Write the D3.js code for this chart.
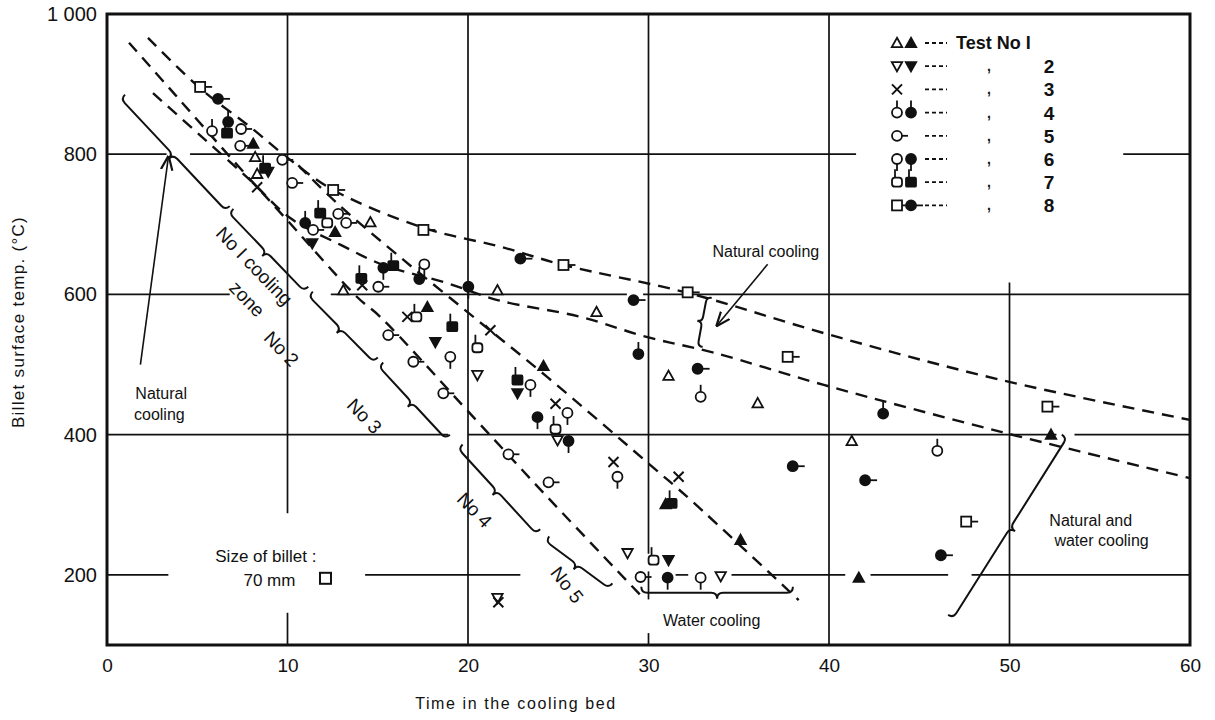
<!DOCTYPE html>
<html><head><meta charset="utf-8">
<script src="https://cdn.jsdelivr.net/npm/d3@7"></script>
<style>body{margin:0;background:#fff}svg{display:block}</style>
</head><body>
<svg id="c" width="1215" height="720"></svg>
<script>
// ---------- axes ----------
const xTicks = [0, 10, 20, 30, 40, 50, 60];
const yTicks = [200, 400, 600, 800, 1000];
const yTickLabels = ["200", "400", "600", "800", "1 000"];
const xTitle = "Time in the cooling bed";
const yTitle = "Billet surface temp. (\u00B0C)";

// ---------- dashed cooling curves (time, temp) ----------
const curveNaturalUpper = [[2.27,966],[5.16,894],[7.93,839],[10.15,792],[12.53,749],[17.53,695],[21.8,668],[25.29,642],[32.06,603],[40.1,542],[49.53,478],[60,421]];
const curveNaturalLower = [[2.55,887],[5.16,827],[7.93,763],[10.15,709],[12.92,671],[15.31,642],[18.86,616],[21.63,592],[26.23,568],[29.95,539],[33.61,517],[39.71,471],[49.53,404],[60,338]];
const curveForcedLeft = [[1.22,959],[3.77,885],[6.82,796],[9.98,706],[13.87,596],[15.14,568],[20.3,425],[24.4,311],[29.56,171]];
const curveForcedRight = [[10.6,784],[12.92,726],[16.25,653],[20.3,568],[24.4,482],[29.95,360],[32.33,307],[38.32,164]];

// ---------- measured points, per test ----------
const test1Open   = [[8.21,796],[8.32,772],[14.59,703],[13.09,606],[21.63,606],[27.12,575],[31.11,484],[36.05,445],[41.26,391]];
const test1Filled = [[8.10,815],[12.64,689],[17.75,582],[24.18,498],[30.95,301],[35.1,250],[41.65,196],[52.3,400]];
const test2Open   = [[20.52,485],[24.96,392],[21.63,167],[28.84,231],[34.0,198]];
const test2Filled = [[8.93,775],[11.37,673],[18.19,532],[22.74,459],[31.11,221]];
const test3       = [[8.32,753],[14.14,613],[16.64,568],[21.24,549],[24.85,444],[28.06,361],[31.67,340],[21.68,161]];
const test4Open   = [[5.82,833],[32.89,454],[46.0,377]];
const test4Filled = [[6.71,846],[10.98,702],[17.3,622],[29.44,515],[43.0,430]];
const test5       = [[7.43,836],[7.38,812],[9.71,792],[10.26,759],[11.42,692],[13.25,702],[12.81,715],[15.03,611],[15.58,542],[16.97,504],[18.63,459],[22.24,372],[24.46,332],[29.56,197]];
const test6Open   = [[17.58,643],[19.02,511],[23.46,471],[25.51,431],[28.28,340],[32.89,196]];
const test6Filled = [[15.31,638],[20.02,611],[23.85,425],[25.57,391],[31.06,196]];
const test7Open   = [[12.2,702],[17.14,568],[20.52,524],[24.85,408],[30.28,221]];
const test7Filled = [[6.65,830],[11.81,716],[8.76,780],[14.09,623],[15.86,641],[19.13,554],[22.74,478],[31.28,302]];
const test8Open   = [[5.16,896],[12.53,749],[17.53,692],[25.29,642],[32.17,603],[37.71,511],[52.1,440],[47.6,276]];
const test8Filled = [[6.15,879],[22.9,651],[29.17,592],[32.72,494],[37.99,355],[42.0,335],[46.2,228]];

// ---------- legend ----------
const legendNumbers = ["Test  No I", "2", "3", "4", "5", "6", "7", "8"];
const legendSeparators = ["", ",", ",", ",", ",", ",", ",", ","];

// ---------- gridline segments (value, from, to) ----------
const hGrid = [[800,0,3.3],[800,4.6,41.5],[800,56.3,60],
               [600,0,6.8],[600,12.4,28.8],[600,29.7,60],
               [400,0,18.9],[400,20.0,52.6],[400,53.6,60],
               [200,0,3.4],[200,14.3,22.9],[200,31.5,32.2],[200,34.6,40.9],[200,42.3,46.6],[200,47.9,60]];
const vGrid = [[10,288,1000],[10,100,146],[20,100,1000],[30,230,1000],[30,165,205],[30,100,117],[40,100,1000],[50,100,617]];

// ---------- zone braces (start, end in data units) ----------
const braces = [
  {a:[1.0,885], b:[6.8,726], h:6},
  {a:[7.0,722], b:[11.15,611], h:6},
  {a:[11.4,604], b:[15.0,510], h:6},
  {a:[15.3,503], b:[19.0,400], h:6},
  {a:[19.7,386], b:[24.0,265], h:6},
  {a:[24.5,255], b:[28.0,188], h:6},
  {a:[29.6,183], b:[38.0,183], h:6},
  {a:[46.6,143], b:[52.9,400], h:6},
];
const zoneLabels = [
  {t:"No I cooling", x:7.9, y:634, r:46},
  {t:"zone", x:7.5, y:587, r:46},
  {t:"No 2", x:9.4, y:516, r:46},
  {t:"No 3", x:14.0, y:420, r:46},
  {t:"No 4", x:20.1, y:286, r:46},
  {t:"No 5", x:25.2, y:180, r:52},
];

// =====================================================
const svg = d3.select("#c");
const x = d3.scaleLinear().domain([0, 60]).range([107, 1190]);
const y = d3.scaleLinear().domain([100, 1000]).range([645, 14]);
const FONT = "'Liberation Sans', Arial, sans-serif";
const ink = "#111";

// grid
svg.append("g").selectAll("line").data(hGrid).join("line")
  .attr("x1", d => x(d[1])).attr("x2", d => x(d[2]))
  .attr("y1", d => y(d[0])).attr("y2", d => y(d[0]))
  .attr("stroke", ink).attr("stroke-width", 1.7);
svg.append("g").selectAll("line").data(vGrid).join("line")
  .attr("x1", d => x(d[0])).attr("x2", d => x(d[0]))
  .attr("y1", d => y(d[1])).attr("y2", d => y(d[2]))
  .attr("stroke", ink).attr("stroke-width", 1.7);

// frame
svg.append("rect").attr("x", x(0)).attr("y", y(1000)).attr("width", x(60)-x(0)).attr("height", y(100)-y(1000))
  .attr("fill", "none").attr("stroke", ink).attr("stroke-width", 3);

// axes labels using d3 axes (no domain, no tick lines)
const yAxis = d3.axisLeft(y).tickValues(yTicks).tickFormat((d,i) => yTickLabels[i]).tickSize(0).tickPadding(10);
const gy = svg.append("g").attr("transform", `translate(${x(0)},0)`).call(yAxis);
gy.select(".domain").remove();
gy.selectAll("text").attr("font-family", FONT).attr("font-size", 20).attr("fill", ink);

const xAxis = d3.axisBottom(x).tickValues(xTicks).tickSize(0).tickPadding(14);
const gx = svg.append("g").attr("transform", `translate(0,${y(100)})`).call(xAxis);
gx.select(".domain").remove();
gx.selectAll("text").attr("font-family", FONT).attr("font-size", 19).attr("fill", ink);

svg.append("text").attr("x", 516).attr("y", 709).attr("text-anchor", "middle")
  .attr("font-family", FONT).attr("font-size", 16).attr("letter-spacing", 1.6).attr("fill", ink).text(xTitle);
svg.append("text").attr("transform", "translate(24,322) rotate(-90)").attr("text-anchor", "middle")
  .attr("font-family", FONT).attr("font-size", 17).attr("letter-spacing", 1.3).attr("fill", ink).text(yTitle);

// dashed curves
const line = d3.line().x(d => x(d[0])).y(d => y(d[1])).curve(d3.curveCatmullRom.alpha(0.5));
[curveNaturalUpper, curveNaturalLower, curveForcedLeft, curveForcedRight].forEach(c => {
  svg.append("path").attr("d", line(c)).attr("fill", "none").attr("stroke", ink)
    .attr("stroke-width", 2.4).attr("stroke-dasharray", "12,8");
});

// braces
function bracePath(a, b, h) {
  const ax = x(a[0]), ay = y(a[1]), bx = x(b[0]), by = y(b[1]);
  const L = Math.hypot(bx-ax, by-ay), dx = (bx-ax)/L, dy = (by-ay)/L;
  const nx = -dy, ny = dx;
  const mx = (ax+bx)/2, my = (ay+by)/2;
  const P = (px, py) => `${px.toFixed(1)},${py.toFixed(1)}`;
  return `M${P(ax,ay)} Q${P(ax+nx*h,ay+ny*h)} ${P(ax+nx*h+dx*h,ay+ny*h+dy*h)}`+
    ` L${P(mx+nx*h-dx*h,my+ny*h-dy*h)} Q${P(mx+nx*h,my+ny*h)} ${P(mx+nx*2*h,my+ny*2*h)}`+
    ` Q${P(mx+nx*h,my+ny*h)} ${P(mx+nx*h+dx*h,my+ny*h+dy*h)}`+
    ` L${P(bx+nx*h-dx*h,by+ny*h-dy*h)} Q${P(bx+nx*h,by+ny*h)} ${P(bx,by)}`;
}
braces.forEach(bz => svg.append("path").attr("d", bracePath(bz.a, bz.b, bz.h))
  .attr("fill", "none").attr("stroke", ink).attr("stroke-width", 2));

zoneLabels.forEach(z => svg.append("text")
  .attr("transform", `translate(${x(z.x)},${y(z.y)}) rotate(${z.r})`)
  .attr("text-anchor", "middle").attr("font-family", FONT).attr("font-size", 19).attr("fill", ink).text(z.t));

// vertical bracket for upper-right natural cooling
svg.append("path").attr("d", bracePath([33.5,595],[33.0,525],5)).attr("fill","none").attr("stroke",ink).attr("stroke-width",2);

// annotation texts
function txt(s, px, py, size, anchor) {
  svg.append("text").attr("x", px).attr("y", py).attr("text-anchor", anchor || "middle")
    .attr("font-family", FONT).attr("font-size", size).attr("fill", ink).text(s);
}
txt("Natural", x(3), y(460)+6, 16);
txt("cooling", x(2.9), y(430)+6, 16);
txt("Natural cooling", x(36.5), y(660)+5, 16);
txt("Water cooling", x(33.5), y(135)+6, 16);
txt("Natural and", x(54.5), y(278)+6, 16);
txt("water cooling", x(55.1), y(250)+6, 16);
txt("Size of billet :", x(8.8), y(225)+5, 17);
txt("70 mm", x(9.0), y(193)+6, 17);
svg.append("rect").attr("x", x(11.8)).attr("y", y(193)-7).attr("width", 11).attr("height", 11)
  .attr("fill", "none").attr("stroke", ink).attr("stroke-width", 2);

// arrows
svg.append("defs").append("marker").attr("id", "ah").attr("viewBox", "0 0 10 10").attr("refX", 9).attr("refY", 5)
  .attr("markerWidth", 9).attr("markerHeight", 9).attr("orient", "auto-start-reverse")
  .append("path").attr("d", "M0,1 L10,5 L0,9").attr("fill", "none").attr("stroke", ink).attr("stroke-width", 1.5);
svg.append("line").attr("x1", x(1.85)).attr("y1", y(500)).attr("x2", x(3.4)).attr("y2", y(796))
  .attr("stroke", ink).attr("stroke-width", 1.6).attr("marker-end", "url(#ah)");
svg.append("line").attr("x1", x(36.6)).attr("y1", y(643)).attr("x2", x(33.8)).attr("y2", y(556))
  .attr("stroke", ink).attr("stroke-width", 1.6).attr("marker-end", "url(#ah)");

// ---------- marker symbols ----------
function drawMarker(g, type, filled, cx, cy) {
  const f = filled ? ink : "#fff", sw = 1.8;
  const s = 5.2;
  if (type === "triUp") {
    g.append("path").attr("d", `M${cx},${cy-s} L${cx+s},${cy+s*0.8} L${cx-s},${cy+s*0.8}Z`).attr("fill", f).attr("stroke", ink).attr("stroke-width", sw);
  } else if (type === "triDown") {
    g.append("path").attr("d", `M${cx},${cy+s} L${cx+s},${cy-s*0.8} L${cx-s},${cy-s*0.8}Z`).attr("fill", f).attr("stroke", ink).attr("stroke-width", sw);
  } else if (type === "cross") {
    g.append("path").attr("d", `M${cx-5},${cy-5} L${cx+5},${cy+5} M${cx+5},${cy-5} L${cx-5},${cy+5}`).attr("stroke", ink).attr("stroke-width", 2);
  } else if (type === "circUp") {
    g.append("line").attr("x1", cx).attr("x2", cx).attr("y1", cy-12).attr("y2", cy).attr("stroke", ink).attr("stroke-width", sw);
    g.append("circle").attr("cx", cx).attr("cy", cy).attr("r", 5).attr("fill", f).attr("stroke", ink).attr("stroke-width", sw);
  } else if (type === "circRight") {
    g.append("line").attr("x1", cx).attr("x2", cx+11).attr("y1", cy).attr("y2", cy).attr("stroke", ink).attr("stroke-width", sw);
    g.append("circle").attr("cx", cx).attr("cy", cy).attr("r", 5).attr("fill", f).attr("stroke", ink).attr("stroke-width", sw);
  } else if (type === "circDown") {
    g.append("line").attr("x1", cx).attr("x2", cx).attr("y1", cy).attr("y2", cy+12).attr("stroke", ink).attr("stroke-width", sw);
    g.append("circle").attr("cx", cx).attr("cy", cy).attr("r", 5).attr("fill", f).attr("stroke", ink).attr("stroke-width", sw);
  } else if (type === "sqUp") {
    g.append("line").attr("x1", cx-2).attr("x2", cx-2).attr("y1", cy-13).attr("y2", cy).attr("stroke", ink).attr("stroke-width", sw);
    g.append("rect").attr("x", cx-5).attr("y", cy-4.5).attr("width", 10).attr("height", 9).attr("rx", filled ? 1 : 3).attr("fill", f).attr("stroke", ink).attr("stroke-width", sw);
  } else if (type === "sqRight") {
    g.append("line").attr("x1", cx).attr("x2", cx+12).attr("y1", cy).attr("y2", cy).attr("stroke", ink).attr("stroke-width", sw);
    if (filled) g.append("circle").attr("cx", cx).attr("cy", cy).attr("r", 5).attr("fill", f).attr("stroke", ink).attr("stroke-width", sw);
    else g.append("rect").attr("x", cx-5).attr("y", cy-5).attr("width", 10).attr("height", 10).attr("fill", f).attr("stroke", ink).attr("stroke-width", sw);
  }
}
const series = [
  [test1Open, "triUp", false], [test1Filled, "triUp", true],
  [test2Open, "triDown", false], [test2Filled, "triDown", true],
  [test3, "cross", false],
  [test4Open, "circUp", false], [test4Filled, "circUp", true],
  [test5, "circRight", false],
  [test6Open, "circDown", false], [test6Filled, "circDown", true],
  [test7Open, "sqUp", false], [test7Filled, "sqUp", true],
  [test8Open, "sqRight", false], [test8Filled, "sqRight", true],
];
const gm = svg.append("g");
series.forEach(([pts, type, filled]) => pts.forEach(p => drawMarker(gm, type, filled, x(p[0]), y(p[1]))));

// ---------- legend ----------
const legendSym = [["triUp","triUp"],["triDown","triDown"],["cross",null],["circUp","circUp"],["circRight",null],["circDown","circDown"],["sqUp","sqUp"],["sqRight","sqRight"]];
const lg = svg.append("g");
legendSym.forEach((sy, i) => {
  const ly = 43 + i * 23.2;
  drawMarker(lg, sy[0], false, 897, ly);
  if (sy[1]) drawMarker(lg, sy[1], true, 911, ly);
  lg.append("path").attr("d", `M925,${ly} L947,${ly}`).attr("stroke", ink).attr("stroke-width", 1.8).attr("stroke-dasharray", "4,3");
  if (i === 0) {
    lg.append("text").attr("x", 956).attr("y", ly + 6).attr("font-family", FONT).attr("font-size", 18).attr("font-weight", "bold").attr("fill", ink).text(legendNumbers[0]);
  } else {
    lg.append("text").attr("x", 987).attr("y", ly + 5).attr("font-family", FONT).attr("font-size", 14).attr("font-weight", "bold").attr("fill", ink).text(legendSeparators[i]);
    lg.append("text").attr("x", 1049).attr("y", ly + 7).attr("text-anchor", "middle").attr("font-family", FONT).attr("font-size", 19).attr("font-weight", "bold").attr("fill", ink).text(legendNumbers[i]);
  }
});
</script>
</body></html>
